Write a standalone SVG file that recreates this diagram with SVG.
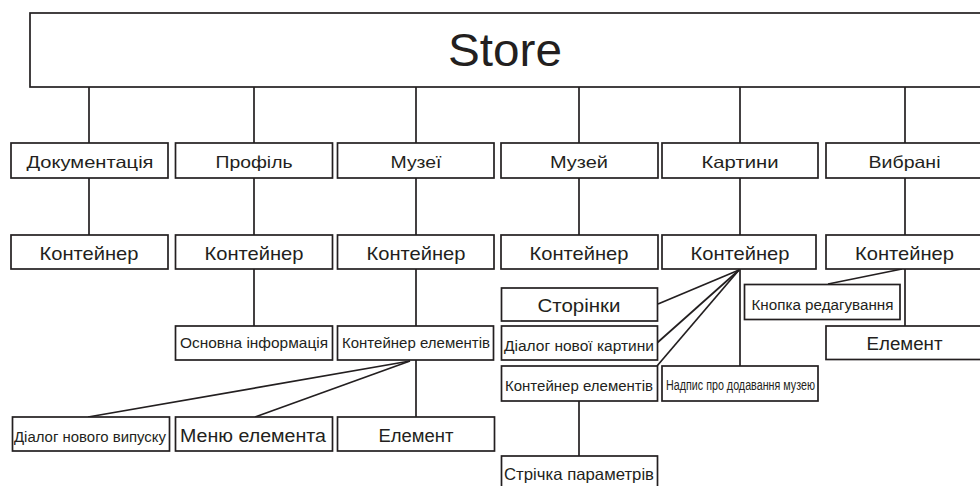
<svg xmlns="http://www.w3.org/2000/svg" width="980" height="486" viewBox="0 0 980 486">
<style>
.b{fill:#fff;stroke:#231f20;stroke-width:1.7}
.c line{stroke:#231f20;stroke-width:1.7}
text{font-family:"Liberation Sans",Arial,sans-serif;fill:#231f20;text-anchor:middle}
</style>
<rect width="980" height="486" fill="#fff"/>
<g id="connectors" class="c">
<line x1="89" y1="87" x2="89" y2="143"/>
<line x1="254" y1="87" x2="254" y2="143"/>
<line x1="416" y1="87" x2="416" y2="143"/>
<line x1="579" y1="87" x2="579" y2="143"/>
<line x1="740" y1="87" x2="740" y2="143"/>
<line x1="905" y1="87" x2="905" y2="143"/>
<line x1="89" y1="178" x2="89" y2="235"/>
<line x1="254" y1="178" x2="254" y2="235"/>
<line x1="416" y1="178" x2="416" y2="235"/>
<line x1="579" y1="178" x2="579" y2="235"/>
<line x1="740" y1="178" x2="740" y2="235"/>
<line x1="905" y1="178" x2="905" y2="235"/>
<line x1="254" y1="269" x2="254" y2="326"/>
<line x1="416" y1="269" x2="416" y2="326"/>
<line x1="410" y1="361" x2="88" y2="417"/>
<line x1="410" y1="361" x2="255" y2="417"/>
<line x1="416" y1="360" x2="416" y2="417"/>
<line x1="739" y1="270" x2="658" y2="304"/>
<line x1="739" y1="270" x2="657" y2="343"/>
<line x1="739" y1="270" x2="657" y2="366"/>
<line x1="740" y1="269" x2="740" y2="366"/>
<line x1="902" y1="269" x2="828" y2="284"/>
<line x1="905" y1="269" x2="905" y2="326"/>
<line x1="579" y1="401" x2="579" y2="456"/>
</g>
<g id="store"><rect class="b" x="30" y="13" width="970" height="74"/><text x="505" y="66" font-size="47" textLength="114" lengthAdjust="spacingAndGlyphs">Store</text></g>
<g id="n-doc"><rect class="b" x="11" y="143" width="157" height="35"/><text x="90" y="167.5" font-size="16.5" textLength="127" lengthAdjust="spacingAndGlyphs">Документація</text></g>
<g id="n-prof"><rect class="b" x="175.5" y="143" width="157" height="35"/><text x="254" y="167.5" font-size="16.5" textLength="77" lengthAdjust="spacingAndGlyphs">Профіль</text></g>
<g id="n-muzei"><rect class="b" x="337.5" y="143" width="156.5" height="35"/><text x="416" y="167.5" font-size="16.5" textLength="51" lengthAdjust="spacingAndGlyphs">Музеї</text></g>
<g id="n-muzej"><rect class="b" x="501" y="143" width="157" height="35"/><text x="579" y="167.5" font-size="16.5" textLength="58" lengthAdjust="spacingAndGlyphs">Музей</text></g>
<g id="n-kart"><rect class="b" x="662" y="143" width="156" height="35"/><text x="740" y="167.5" font-size="16.5" textLength="77" lengthAdjust="spacingAndGlyphs">Картини</text></g>
<g id="n-vybr"><rect class="b" x="826" y="143" width="160" height="35"/><text x="904.5" y="167.5" font-size="16.5" textLength="72" lengthAdjust="spacingAndGlyphs">Вибрані</text></g>
<g id="c-doc"><rect class="b" x="11" y="235" width="157" height="34"/><text x="89" y="260" font-size="18.5" textLength="99" lengthAdjust="spacingAndGlyphs">Контейнер</text></g>
<g id="c-prof"><rect class="b" x="175.5" y="235" width="157" height="34"/><text x="254" y="260" font-size="18.5" textLength="99" lengthAdjust="spacingAndGlyphs">Контейнер</text></g>
<g id="c-muzei"><rect class="b" x="337.5" y="235" width="156.5" height="34"/><text x="416" y="260" font-size="18.5" textLength="99" lengthAdjust="spacingAndGlyphs">Контейнер</text></g>
<g id="c-muzej"><rect class="b" x="501" y="235" width="157" height="34"/><text x="579" y="260" font-size="18.5" textLength="99" lengthAdjust="spacingAndGlyphs">Контейнер</text></g>
<g id="c-kart"><rect class="b" x="662" y="235" width="154" height="34"/><text x="740" y="260" font-size="18.5" textLength="99" lengthAdjust="spacingAndGlyphs">Контейнер</text></g>
<g id="c-vybr"><rect class="b" x="826" y="235" width="160" height="34"/><text x="904.5" y="260" font-size="18.5" textLength="99" lengthAdjust="spacingAndGlyphs">Контейнер</text></g>
<g id="osn-info"><rect class="b" x="175.5" y="326" width="157" height="34"/><text x="254" y="348" font-size="14.5" textLength="148" lengthAdjust="spacingAndGlyphs">Основна інформація</text></g>
<g id="kont-el-1"><rect class="b" x="337.5" y="326" width="156" height="34"/><text x="416" y="348" font-size="14.5" textLength="148" lengthAdjust="spacingAndGlyphs">Контейнер елементів</text></g>
<g id="dial-vypusk"><rect class="b" x="12.5" y="417" width="157" height="34"/><text x="90" y="441.5" font-size="14" textLength="152" lengthAdjust="spacingAndGlyphs">Діалог нового випуску</text></g>
<g id="menu-el"><rect class="b" x="175.5" y="417" width="157" height="34"/><text x="253" y="441.5" font-size="17.5" textLength="146" lengthAdjust="spacingAndGlyphs">Меню елемента</text></g>
<g id="element-1"><rect class="b" x="337.5" y="417" width="157" height="34"/><text x="416" y="441.5" font-size="18" textLength="75" lengthAdjust="spacingAndGlyphs">Елемент</text></g>
<g id="storinky"><rect class="b" x="501.5" y="288" width="156" height="33"/><text x="579" y="311.5" font-size="18.5" textLength="83" lengthAdjust="spacingAndGlyphs">Сторінки</text></g>
<g id="dial-kart"><rect class="b" x="501.5" y="326" width="156" height="34"/><text x="579" y="351" font-size="15.5" textLength="150" lengthAdjust="spacingAndGlyphs">Діалог нової картини</text></g>
<g id="kont-el-2"><rect class="b" x="501.5" y="366" width="156" height="35"/><text x="579" y="390.5" font-size="14.5" textLength="148" lengthAdjust="spacingAndGlyphs">Контейнер елементів</text></g>
<g id="nadpys"><rect class="b" x="662" y="366" width="156" height="35"/><text x="740.5" y="389.5" font-size="14" textLength="149" lengthAdjust="spacingAndGlyphs">Надпис про додавання музею</text></g>
<g id="knopka"><rect class="b" x="744.5" y="284.5" width="155.5" height="35"/><text x="822.5" y="310" font-size="14" textLength="142" lengthAdjust="spacingAndGlyphs">Кнопка редагування</text></g>
<g id="element-2"><rect class="b" x="826" y="326" width="160" height="33.5"/><text x="904.5" y="350" font-size="18" textLength="76" lengthAdjust="spacingAndGlyphs">Елемент</text></g>
<g id="strichka"><rect class="b" x="501.5" y="456" width="156" height="40"/><text x="579" y="480" font-size="16.5" textLength="150" lengthAdjust="spacingAndGlyphs">Стрічка параметрів</text></g>
</svg>
